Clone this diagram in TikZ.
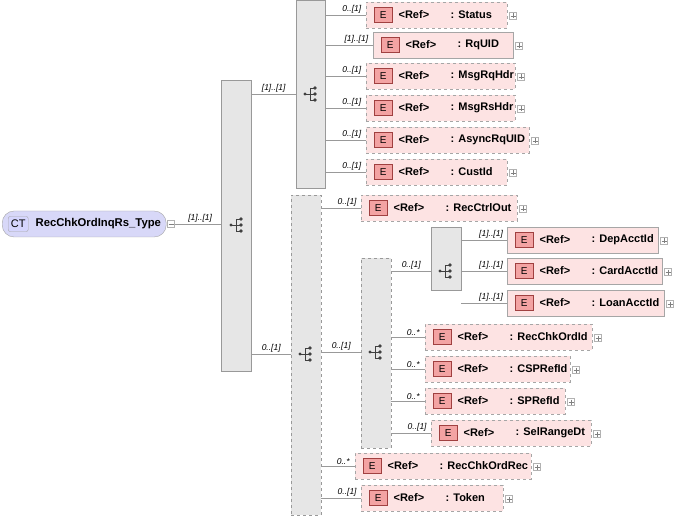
\documentclass[tikz,border=0pt]{standalone}
\usepackage{fontspec}
\setmainfont{Liberation Sans}
\usetikzlibrary{positioning}
\definecolor{elfill}{HTML}{FDE3E3}
\definecolor{badgefill}{HTML}{F3A3A3}
\definecolor{badgedraw}{HTML}{A04040}
\definecolor{barfill}{HTML}{E6E6E6}
\definecolor{ctfill}{HTML}{D8D8F8}
\tikzset{
  elem/.style={draw=gray!70, fill=elfill, minimum height=26pt, inner sep=0pt, anchor=west},
  opt/.style={dashed},
  badge/.style={draw=badgedraw, fill=badgefill, minimum width=18pt, minimum height=15pt, inner sep=0pt, font=\fontsize{10}{10}\selectfont},
  reftxt/.style={font=\bfseries\fontsize{11}{12}\selectfont, inner sep=0pt, anchor=west},
  mult/.style={font=\itshape\fontsize{8.5}{9}\selectfont, inner sep=1pt, anchor=south},
  bar/.style={draw=gray!80, fill=barfill, inner sep=0pt, anchor=north west},
  plusbox/.style={draw=gray!60, fill=white, minimum size=7pt, inner sep=0pt},
  conn/.style={draw=gray!80, line width=0.6pt}
}
\newcommand{\seqicon}[1]{%
  \fill[black!75] (#1) ++(-6,0) circle (1.6);
  \draw[black!75, line width=0.8pt] (#1) ++(-6,0) -- ++(5,0) ++(0,-6) -- ++(0,12);
  \draw[black!75, line width=0.8pt] (#1) ++(-1,-6) -- ++(4,0) ++(-4,6) -- ++(4,0) ++(-4,6) -- ++(4,0);
  \foreach \dy in {-6,0,6} \fill[black!75] (#1) ++(4,\dy) circle (1.8);}
\newcommand{\plus}[1]{%
  \node[plusbox] at (#1) {}; \draw[gray] (#1) ++(-2.5,0) -- ++(5,0) (#1) ++(0,-2.5) -- ++(0,5);}
\begin{document}
\begin{tikzpicture}[x=1pt, y=-1pt]
\useasboundingbox (0,0) rectangle (674,521);
% root type
\node[draw=gray!70, fill=ctfill, rounded corners=12pt, minimum width=164pt, minimum height=26pt, anchor=west] (root) at (2,224) {};
\node[draw=gray!70, fill=ctfill!70!blue!40, rounded corners=2pt, minimum width=20pt, minimum height=15pt, inner sep=0pt, font=\fontsize{11}{11}\selectfont, right=6pt of root.west] (ctbadge) {CT};
\node[reftxt, font=\bfseries\fontsize{11.3}{12}\selectfont, right=7pt of ctbadge] {RecChkOrdInqRs\_Type};
\node[plusbox] (rootmin) at (171,224) {}; \draw[gray] (168.5,224) -- (173.5,224);
% sequence bars
\node[bar, minimum width=30pt, minimum height=291pt] (seqmain) at (221,80) {};
\node[bar, minimum width=29pt, minimum height=188pt] (seqtop) at (296,0) {};
\node[bar, opt, minimum width=30pt, minimum height=320pt] (seqbot) at (291,195) {};
\node[bar, opt, minimum width=30pt, minimum height=190pt] (seqin) at (361,258) {};
\node[bar, minimum width=30pt, minimum height=63pt] (choice) at (431,227) {};
\seqicon{237,225} \seqicon{311,94} \seqicon{306,354} \seqicon{376,352} \seqicon{446,271}
\draw[conn] (rootmin.east) -- (seqmain.west |- rootmin.east) node[mult, pos=0.55] {[1]..[1]};
\coordinate (ctop) at (seqmain.east |- 0,94);
\draw[conn] (ctop) -- (seqtop.west |- ctop) node[mult, midway] {[1]..[1]};
\coordinate (cbot) at (seqmain.east |- 0,354);
\draw[conn] (cbot) -- (seqbot.west |- cbot) node[mult, midway] {0..[1]};
\coordinate (cin) at (seqbot.east |- 0,352);
\draw[conn] (cin) -- (seqin.west |- cin) node[mult, midway] {0..[1]};
\coordinate (cch) at (seqin.east |- 0,271);
\draw[conn] (cch) -- (choice.west |- cch) node[mult, midway] {0..[1]};
% elements: name/parent/x/y/width/dash/multiplicity
\foreach \n/\p/\x/\y/\w/\d/\m in {
  Status/seqtop/366/15/141/opt/0..[1],
  RqUID/seqtop/373/45/140/solid/[1]..[1],
  MsgRqHdr/seqtop/366/76/149/opt/0..[1],
  MsgRsHdr/seqtop/366/108/149/opt/0..[1],
  AsyncRqUID/seqtop/366/140/163/opt/0..[1],
  CustId/seqtop/366/172/141/opt/0..[1],
  RecCtrlOut/seqbot/361/208/156/opt/0..[1],
  DepAcctId/choice/507/240/151/solid/[1]..[1],
  CardAcctId/choice/507/271/155/solid/[1]..[1],
  LoanAcctId/choice/507/303/157/solid/[1]..[1],
  RecChkOrdId/seqin/425/337/167/opt/0..*,
  CSPRefId/seqin/425/369/145/opt/0..*,
  SPRefId/seqin/425/401/140/opt/0..*,
  SelRangeDt/seqin/431/433/160/opt/0..[1],
  RecChkOrdRec/seqbot/355/466/176/opt/0..*,
  Token/seqbot/361/498/142/opt/0..[1]} {
  \node[elem, \d, minimum width=\w pt] (e\n) at (\x,\y) {};
  \node[badge, right=8pt of e\n.west] (b\n) {E};
  \node[reftxt, right=6pt of b\n] {<Ref>};
  \node[reftxt, right=58pt of b\n.east] {: \n};
  \plus{\x+\w+6,\y+1}
  \coordinate (s\n) at (\p.east |- e\n.west);
  \draw[conn] (s\n) -- (e\n.west) node[mult, pos=0.65] {\m};
}
\end{tikzpicture}
\end{document}
